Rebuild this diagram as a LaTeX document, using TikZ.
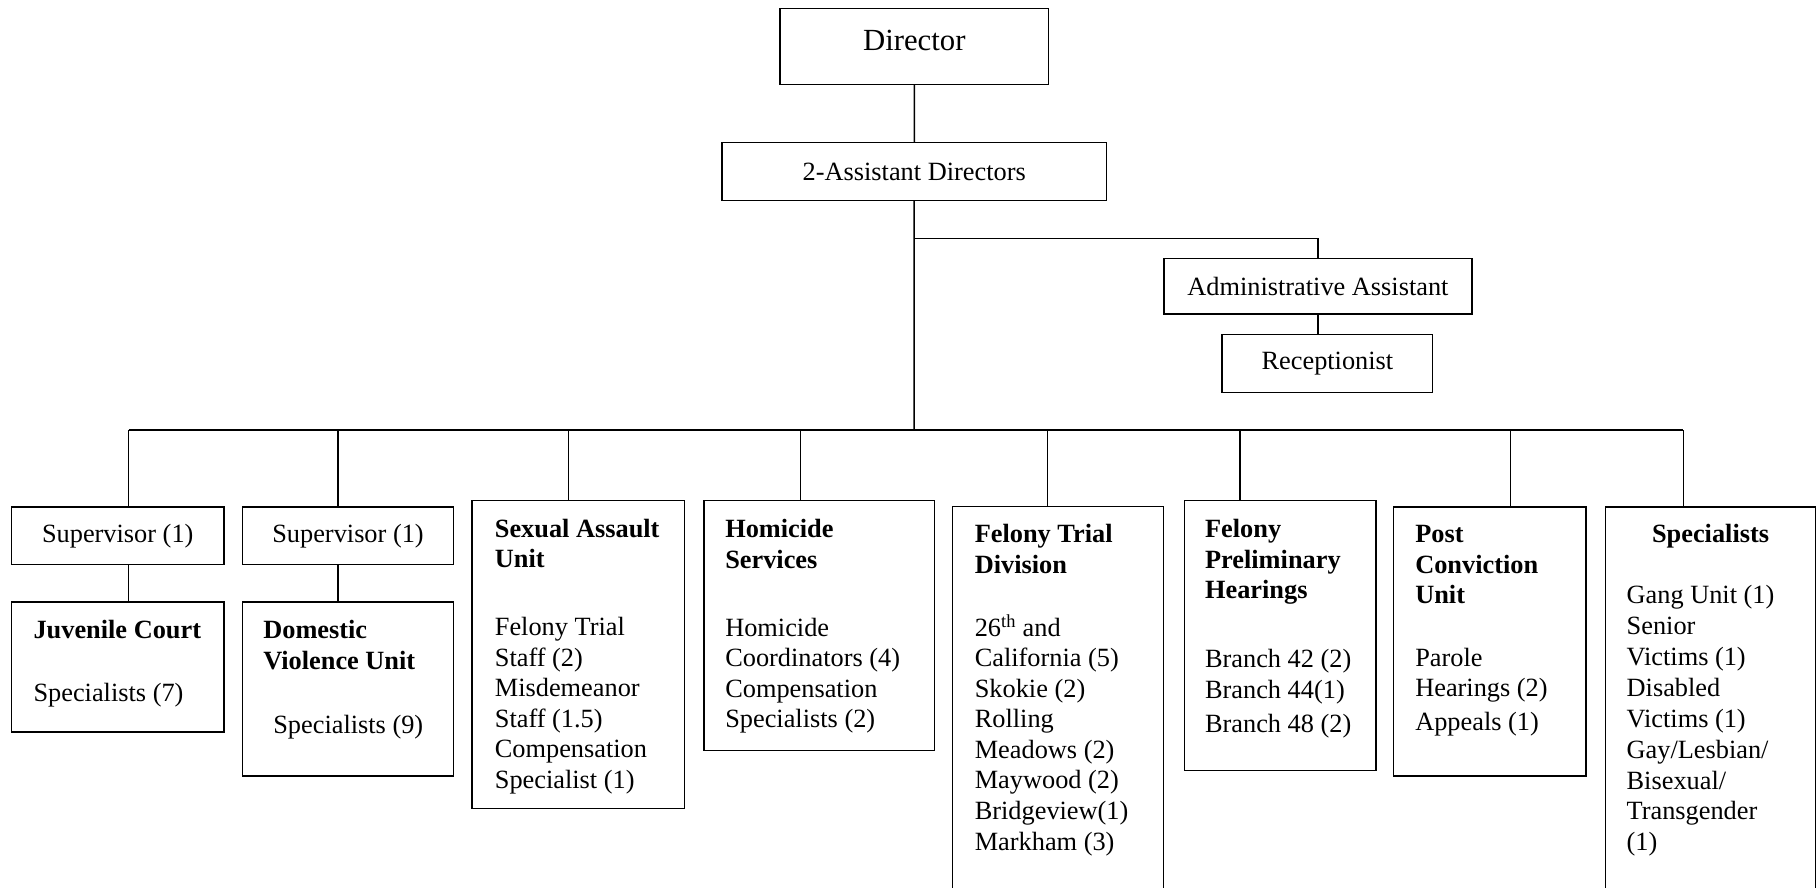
\documentclass[tikz,border=0pt]{standalone}
\usepackage{fontspec}
\setmainfont{Liberation Serif}
\begin{document}
\begin{tikzpicture}[x=1pt,y=-1pt,line width=1.3pt,
  box/.style={draw,line width=1.3pt,anchor=north west,inner sep=0pt,outer sep=0pt,
    font=\fontsize{22.7}{26.3}\selectfont},
  utext/.style={anchor=north west,inner sep=0pt,outer sep=0pt,align=left,
    font=\fontsize{22.7}{26.3}\selectfont},
  conn/.style={draw,line width=1.3pt}]
\useasboundingbox (0,0) rectangle (1568,765);
\begin{scope}
\clip (0,0) rectangle (1568,765);
% top part
\node[box,minimum width=231.4pt,minimum height=65.5pt,font=\fontsize{26.5}{30}\selectfont] (dir) at (672.4,7.2) {\raisebox{10pt}{Director}};
\node[box,minimum width=331.6pt,minimum height=50pt] (asst) at (622.3,123) {2-Assistant Directors};
\node[box,minimum width=265.5pt,minimum height=48.1pt] (admin) at (1003.3,222.7) {Administrative Assistant};
\node[box,minimum width=181.5pt,minimum height=50.3pt] (recep) at (1053.5,288.2) {Receptionist};
% second row
\node[box,minimum width=183pt,minimum height=49.5pt] (sup1) at (10,437) {\raisebox{-2pt}{Supervisor (1)}};
\node[box,minimum width=182pt,minimum height=49.5pt] (sup2) at (209,437) {\raisebox{-2pt}{Supervisor (1)}};
\node[box,minimum width=183pt,minimum height=112pt] (juv) at (10,519) {};
\node[box,minimum width=182pt,minimum height=150pt] (dv) at (209,519) {};
\node[box,minimum width=183pt,minimum height=265.7pt] (sa) at (407,431.3) {};
\node[box,minimum width=198.5pt,minimum height=215.8pt] (hom) at (606.9,431.3) {};
\node[box,minimum width=182pt,minimum height=360pt] (ft) at (821,436.5) {};
\node[box,minimum width=165pt,minimum height=232.4pt] (fp) at (1021,431.6) {};
\node[box,minimum width=166pt,minimum height=232pt] (pc) at (1201,437) {};
\node[box,minimum width=181pt,minimum height=360pt] (spec) at (1384,437) {};
% texts
\node[utext] (juvt) at (28.9,532) {\strut\textbf{Juvenile Court}\\[28pt] Specialists (7)};
\node[utext] (dvt) at (227,532) {\strut\textbf{Domestic}\\ \textbf{Violence Unit}\\[29.7pt] \hspace*{8.6pt}Specialists (9)};
\node[utext] (sat) at (426.6,444.5) {\strut\textbf{Sexual Assault}\\ \textbf{Unit}\\[32.6pt] Felony Trial\\ Staff (2)\\ Misdemeanor\\ Staff (1.5)\\ Compensation\\ Specialist (1)};
\node[utext] (homt) at (625.2,445) {\strut\textbf{Homicide}\\ \textbf{Services}\\[32.6pt] Homicide\\ Coordinators (4)\\ Compensation\\ Specialists (2)};
\node[utext] (ftt) at (840.3,449.3) {\strut\textbf{Felony Trial}\\ \textbf{Division}\\[28.3pt] 26\textsuperscript{th} and\\ California (5)\\ Skokie (2)\\ Rolling\\ Meadows (2)\\ Maywood (2)\\ Bridgeview(1)\\ Markham (3)};
\node[utext] (fpt) at (1038.8,445) {\strut\textbf{Felony}\\ \textbf{Preliminary}\\ \textbf{Hearings}\\[33.4pt] Branch 42 (2)\\ Branch 44(1)\\[3pt] Branch 48 (2)};
\node[utext] (pct) at (1220,449.3) {\strut\textbf{Post}\\ \textbf{Conviction}\\ \textbf{Unit}\\[27.7pt] Parole\\ Hearings (2)\\[3pt] Appeals (1)};
\node[utext,anchor=north] (spech) at (1474.5,449.3) {\strut\textbf{Specialists}};
\node[utext,font=\fontsize{22.7}{26.6}\selectfont] (specl) at (1402.2,501.9) {\strut Gang Unit (1)\\ Senior\\ Victims (1)\\ Disabled\\ Victims (1)\\ Gay/Lesbian/\\ Bisexual/\\ Transgender\\ (1)};
% connectors
\coordinate (j) at (787.9,370.7);
\coordinate (br) at (787.9,205.4);
\draw[conn] (dir) -- (asst);
\draw[conn] (asst) -- (j);
\draw[conn] (br) -| (admin);
\draw[conn] (admin.south) -- (admin.south |- recep.north);
\coordinate (d1) at (110.9,370.7);
\coordinate (d2) at (291.4,370.7);
\coordinate (d3) at (490,370.7);
\coordinate (d4) at (689.9,370.7);
\coordinate (d5) at (903,370.7);
\coordinate (d6) at (1069,370.7);
\coordinate (d7) at (1302,370.7);
\coordinate (d8) at (1451,370.7);
\draw[conn] (d1) -- (d8);
\draw[conn] (d1) -- (d1 |- sup1.north);
\draw[conn] (d1 |- sup1.south) -- (d1 |- juv.north);
\draw[conn] (d2) -- (d2 |- sup2.north);
\draw[conn] (d2 |- sup2.south) -- (d2 |- dv.north);
\draw[conn] (d3) -- (d3 |- sa.north);
\draw[conn] (d4) -- (d4 |- hom.north);
\draw[conn] (d5) -- (d5 |- ft.north);
\draw[conn] (d6) -- (d6 |- fp.north);
\draw[conn] (d7) -- (d7 |- pc.north);
\draw[conn] (d8) -- (d8 |- spec.north);
\end{scope}
\end{tikzpicture}
\end{document}
